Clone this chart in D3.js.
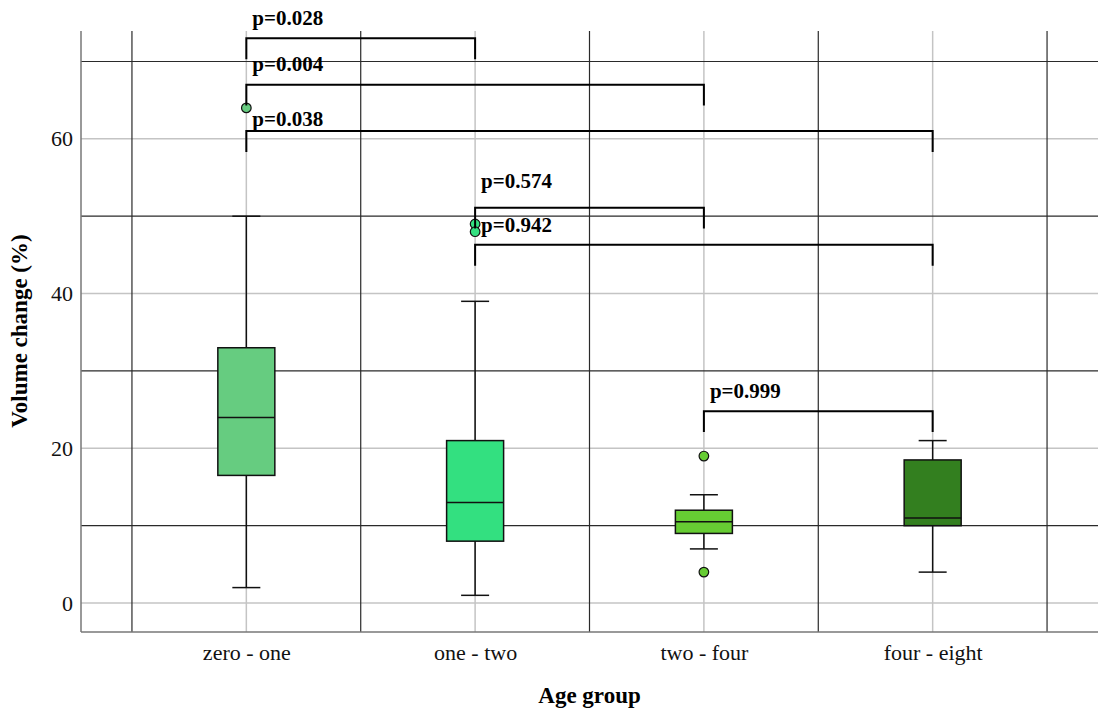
<!DOCTYPE html>
<html>
<head>
<meta charset="utf-8">
<script src="https://cdn.jsdelivr.net/npm/d3@7"></script>
<style>
  html, body { margin: 0; padding: 0; background: #fff; }
  svg { display: block; font-family: "Liberation Serif", "Times New Roman", serif; }
</style>
</head>
<body>
<svg id="chart" width="1098" height="711"></svg>
<script>
// Age groups along the x axis
const groups = ["zero - one", "one - two", "two - four", "four - eight"];
// Box summaries per group (volume change, %)
const whiskerLow  = [2, 1, 7, 4];
const q1          = [16.5, 8, 9, 10];
const median      = [24, 13, 10.5, 11];
const q3          = [33, 21, 12, 18.5];
const whiskerHigh = [50, 39, 14, 21];
const outliers    = [[64], [49, 48], [19, 4], []];
const boxColors   = ["#66cc80", "#33e080", "#66cc33", "#337f1f"];
// Pairwise comparisons: group indices, p value, bracket level and label level (%)
const pairFrom   = [0, 0, 0, 1, 1, 2];
const pairTo     = [1, 2, 3, 2, 3, 3];
const pValues    = ["p=0.028", "p=0.004", "p=0.038", "p=0.574", "p=0.942", "p=0.999"];
const bracketAt  = [73.0, 67.0, 61.0, 51.1, 46.3, 24.8];
const labelAt    = [74.7, 68.8, 61.7, 53.6, 47.9, 26.5];
// Axis ticks
const yTicks = [0, 20, 40, 60];
const yMinor = [10, 30, 50, 70];

const svg = d3.select("#chart");
const plotLeft = 81, plotRight = 1098, plotTop = 31, plotBottom = 632;

// Groups sit at 1..4 on a linear x scale so half-steps mark the dividers
const x = d3.scaleLinear().domain([0.2773, 4.7227]).range([plotLeft, plotRight]);
const y = d3.scaleLinear().domain([-3.74, 73.94]).range([plotBottom, plotTop]);

const g = svg.append("g");

// Gridlines: light at major ticks / group centres, dark at minor ticks / dividers
g.selectAll("line.ymaj").data(yTicks).join("line").attr("class", "ymaj")
  .attr("x1", plotLeft).attr("x2", plotRight)
  .attr("y1", d => y(d)).attr("y2", d => y(d))
  .attr("stroke", "#c4c4c4").attr("stroke-width", 1.5);
g.selectAll("line.xmaj").data(groups).join("line").attr("class", "xmaj")
  .attr("x1", (d, i) => x(i + 1)).attr("x2", (d, i) => x(i + 1))
  .attr("y1", plotTop).attr("y2", plotBottom)
  .attr("stroke", "#c4c4c4").attr("stroke-width", 1.5);
g.selectAll("line.ymin").data(yMinor).join("line").attr("class", "ymin")
  .attr("x1", plotLeft).attr("x2", plotRight)
  .attr("y1", d => y(d)).attr("y2", d => y(d))
  .attr("stroke", "#2a2a2a").attr("stroke-width", 1.2);
g.selectAll("line.xmin").data(d3.range(groups.length + 1)).join("line").attr("class", "xmin")
  .attr("x1", d => x(d + 0.5)).attr("x2", d => x(d + 0.5))
  .attr("y1", plotTop).attr("y2", plotBottom)
  .attr("stroke", "#2a2a2a").attr("stroke-width", 1.2);

// Axes
const yAxis = g.append("g").attr("transform", `translate(${plotLeft},0)`)
  .call(d3.axisLeft(y).tickValues(yTicks).tickSize(0).tickPadding(8));
yAxis.select(".domain").attr("stroke", "#777").attr("stroke-width", 1.5)
  .attr("d", `M0,${plotTop}V${plotBottom}`);
yAxis.selectAll("text").attr("font-size", 22).attr("fill", "#111")
  .attr("font-family", "Liberation Serif, serif");

const xAxis = g.append("g").attr("transform", `translate(0,${plotBottom})`)
  .call(d3.axisBottom(x).tickValues([1, 2, 3, 4]).tickFormat(d => groups[d - 1]).tickSize(0).tickPadding(12));
xAxis.select(".domain").attr("stroke", "#777").attr("stroke-width", 1.5)
  .attr("d", `M${plotLeft},0H${plotRight}`);
xAxis.selectAll("text").attr("font-size", 22).attr("fill", "#111")
  .attr("font-family", "Liberation Serif, serif");

// Box plots
const boxW = 57, capW = 28;
const boxes = g.selectAll("g.box").data(groups).join("g").attr("class", "box");
boxes.append("line")
  .attr("x1", (d, i) => x(i + 1)).attr("x2", (d, i) => x(i + 1))
  .attr("y1", (d, i) => y(whiskerLow[i])).attr("y2", (d, i) => y(whiskerHigh[i]))
  .attr("stroke", "#111").attr("stroke-width", 1.5);
[whiskerLow, whiskerHigh].forEach(arr => {
  boxes.append("line")
    .attr("x1", (d, i) => x(i + 1) - capW / 2).attr("x2", (d, i) => x(i + 1) + capW / 2)
    .attr("y1", (d, i) => y(arr[i])).attr("y2", (d, i) => y(arr[i]))
    .attr("stroke", "#111").attr("stroke-width", 1.5);
});
boxes.append("rect")
  .attr("x", (d, i) => x(i + 1) - boxW / 2).attr("width", boxW)
  .attr("y", (d, i) => y(q3[i])).attr("height", (d, i) => y(q1[i]) - y(q3[i]))
  .attr("fill", (d, i) => boxColors[i]).attr("stroke", "#111").attr("stroke-width", 1.5);
boxes.append("line")
  .attr("x1", (d, i) => x(i + 1) - boxW / 2).attr("x2", (d, i) => x(i + 1) + boxW / 2)
  .attr("y1", (d, i) => y(median[i])).attr("y2", (d, i) => y(median[i]))
  .attr("stroke", "#111").attr("stroke-width", 1.5);
boxes.each(function(d, i) {
  d3.select(this).selectAll("circle").data(outliers[i]).join("circle")
    .attr("cx", x(i + 1)).attr("cy", v => y(v)).attr("r", 4.8)
    .attr("fill", boxColors[i]).attr("stroke", "#111").attr("stroke-width", 1.2);
});

// Significance brackets
const legLen = 2.7;
const br = g.selectAll("g.bracket").data(pValues).join("g").attr("class", "bracket");
br.append("path")
  .attr("d", (d, k) => {
    const x1 = x(pairFrom[k] + 1), x2 = x(pairTo[k] + 1);
    const yt = y(bracketAt[k]), yb = y(bracketAt[k] - legLen);
    return `M${x1},${yb}V${yt}H${x2}V${yb}`;
  })
  .attr("fill", "none").attr("stroke", "#000").attr("stroke-width", 2);
br.append("text")
  .attr("x", (d, k) => x(pairFrom[k] + 1) + 6)
  .attr("y", (d, k) => y(labelAt[k]))
  .attr("font-size", 21).attr("font-weight", "bold").attr("fill", "#000")
  .text(d => d);

// Axis titles
svg.append("text").attr("x", (plotLeft + plotRight) / 2).attr("y", 703)
  .attr("text-anchor", "middle").attr("font-size", 23).attr("font-weight", "bold")
  .text("Age group");
svg.append("text").attr("transform", "translate(27,331) rotate(-90)")
  .attr("text-anchor", "middle").attr("font-size", 23).attr("font-weight", "bold")
  .text("Volume change (%)");
</script>
</body>
</html>
